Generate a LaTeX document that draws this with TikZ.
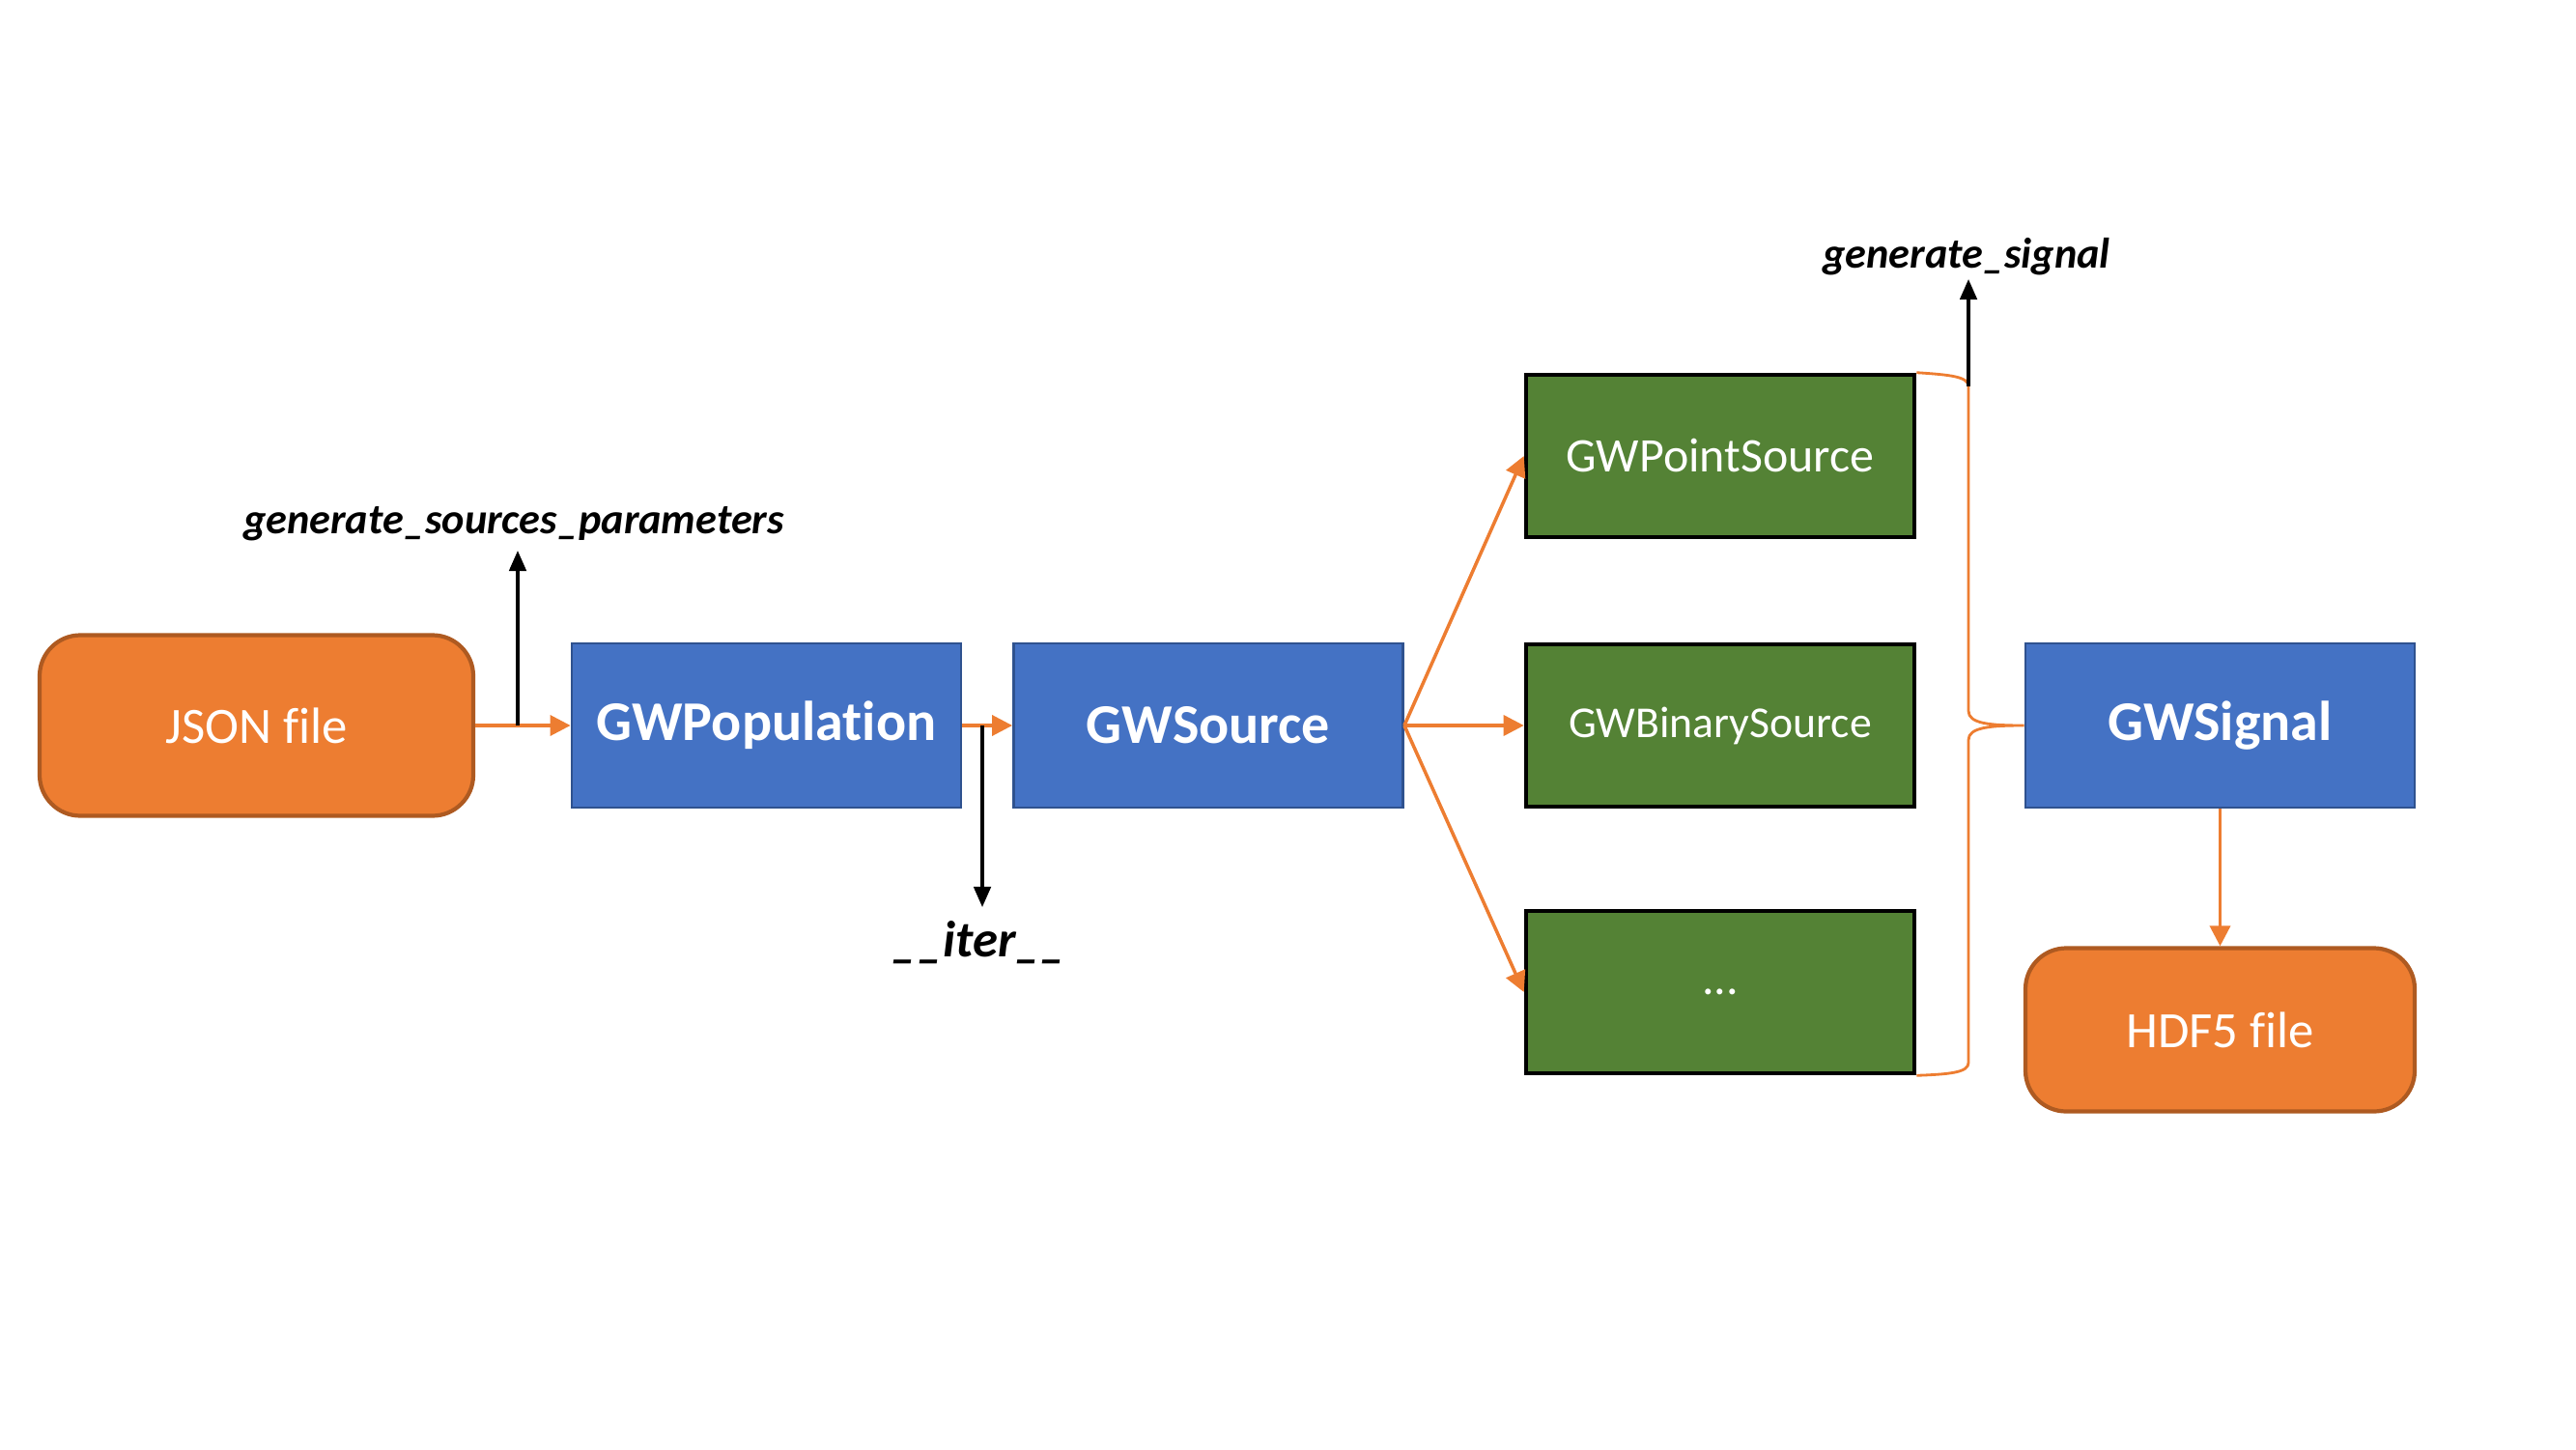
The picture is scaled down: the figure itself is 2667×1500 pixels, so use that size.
\documentclass[tikz,border=0pt]{standalone}
\usepackage{fontspec}
\setmainfont{Carlito}[Ligatures=NoCommon]
\usetikzlibrary{arrows.meta}
\definecolor{orfill}{HTML}{ED7D31}
\definecolor{ordraw}{HTML}{AE5A21}
\definecolor{blfill}{HTML}{4472C4}
\definecolor{bldraw}{HTML}{2F528F}
\definecolor{grfill}{HTML}{548235}
\begin{document}
\begin{tikzpicture}[x=0.01cm,y=-0.01cm,
  filebox/.style={draw=ordraw,fill=orfill,line width=1.2pt,rounded corners=12pt,minimum width=449*0.01cm,minimum height=187*0.01cm,text=white,font=\fontsize{15}{18}\selectfont,inner sep=0pt},
  classbox/.style={draw=bldraw,fill=blfill,line width=0.8pt,minimum width=403*0.01cm,minimum height=170*0.01cm,text=white,font=\fontsize{16.5}{20}\selectfont\bfseries,inner sep=0pt},
  subbox/.style={draw=black,fill=grfill,line width=1.3pt,minimum width=402*0.01cm,minimum height=168*0.01cm,text=white,font=\fontsize{14.2}{17}\selectfont,inner sep=0pt},
  flow/.style={draw=orfill,line width=1pt,-{Triangle[length=6pt,width=6pt]}},
  call/.style={draw=black,line width=0.9pt,-{Triangle[length=6pt,width=5pt]}},
  method/.style={font=\fontsize{12.6}{16}\selectfont\bfseries\itshape,inner sep=0pt}]
\useasboundingbox (0,0) rectangle (2667,1500);
\node[filebox] (json) at (265.5,751) {JSON file};
\node[classbox] (pop) at (793.5,751) {GWPopulation};
\node[classbox] (src) at (1251,751) {GWSource};
\node[subbox] (point) at (1781,472) {GWPointSource};
\node[subbox,font=\fontsize{13}{16}\selectfont] (binary) at (1781,751) {GWBinarySource};
\node[subbox] (dots) at (1781,1027) {...};
\node[classbox] (sig) at (2298.5,751) {GWSignal};
\node[filebox,minimum width=403*0.01cm,minimum height=169*0.01cm] (hdf) at (2298.5,1066) {HDF5 file};
% flows
\draw[flow] (json.east) -- (pop.west);
\draw[flow] (pop.east) -- (src.west);
\draw[flow] (src.east) -- (point.west);
\draw[flow] (src.east) -- (binary.west);
\draw[flow] (src.east) -- (dots.west);
\draw[flow] (sig.south) -- (hdf.north);
% brace
\coordinate (btop) at (2038,400);
\draw[draw=orfill,line width=0.8pt] (point.north east) .. controls (2020,388) and (2038,390) .. (btop)
  -- (2038,736) .. controls (2038,749) and (2060,751) .. (sig.west)
  .. controls (2060,751) and (2038,753) .. (2038,766)
  -- (2038,1100) .. controls (2038,1110) and (2020,1112) .. (dots.south east);
% method labels
\coordinate (gspbase) at (536,751);
\node[method] (gsp) at (532,542) {generate\_sources\_parameters};
\draw[call] (gspbase) -- (536,570);
\coordinate (iterbase) at (1017,751);
\node[method,font=\fontsize{15}{18}\selectfont\bfseries\itshape] (iter) at (1014,976) {\_\_iter\_\_};
\draw[call] (iterbase) -- (1017,939);
\node[method] (gsig) at (2036,266) {generate\_signal};
\draw[call] (btop) -- (2038,289);
\end{tikzpicture}
\end{document}
